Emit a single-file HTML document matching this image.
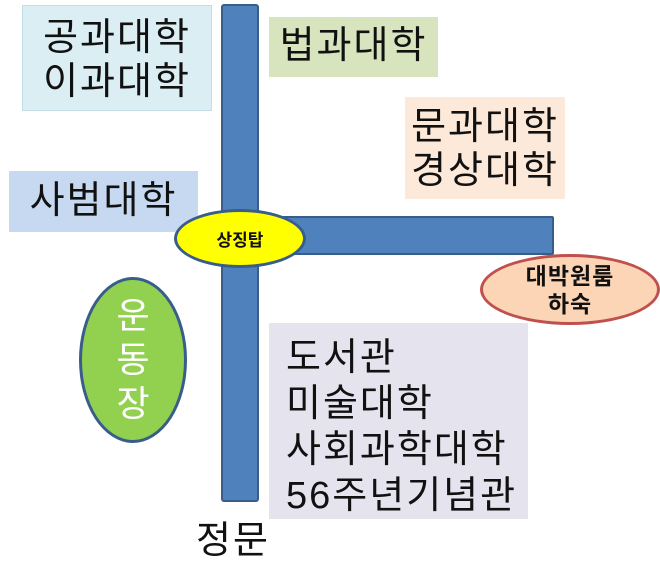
<!DOCTYPE html><html><head><meta charset="utf-8"><style>
body{margin:0;width:660px;height:583px;background:#fff;position:relative;overflow:hidden;font-family:"Liberation Sans","Noto Sans CJK KR",sans-serif;color:#111}
.a{position:absolute;box-sizing:border-box}
.t{font-size:38px;line-height:44px;letter-spacing:2px}
</style></head><body>
<div class="a t" style="left:22px;top:5px;width:190px;height:106px;background:#dbeef4;border:1px solid #c4dde6;padding-top:10px;text-align:center">공과대학<br>이과대학</div>
<div class="a t" style="left:269px;top:17px;width:169px;height:60px;background:#d7e4bd;padding-top:7px;text-align:center">법과대학</div>
<div class="a t" style="left:405px;top:97px;width:160px;height:102px;background:#fde9d9;padding-top:8px;text-align:center">문과대학<br>경상대학</div>
<div class="a t" style="left:9px;top:171px;width:189px;height:61px;background:#c6d9f1;padding-top:8px;text-align:center">사범대학</div>
<div class="a t" style="left:269px;top:323px;width:259px;height:196px;background:#e4e3ee;padding:12px 0 0 17px;line-height:46px">도서관<br>미술대학<br>사회과학대학<br>56주년기념관</div>
<div class="a" style="left:221px;top:4px;width:38px;height:498px;background:#4f81bd;border:2px solid #385d8a;border-radius:3px"></div>
<div class="a" style="left:256px;top:216px;width:298px;height:39px;background:#4f81bd;border:2px solid #385d8a;border-radius:2px"></div>
<div class="a" style="left:174px;top:209px;width:132px;height:59px;background:#ffff00;border:3px solid #385d8a;border-radius:50%;font-size:17px;font-weight:bold;display:flex;align-items:center;justify-content:center">상징탑</div>
<div class="a" style="left:480px;top:254px;width:180px;height:71px;background:#fbd5b5;border:3px solid #c0504d;border-radius:50%;font-size:23px;font-weight:bold;letter-spacing:1px;line-height:28px;display:flex;align-items:center;justify-content:center;text-align:center">대박원룸<br>하숙</div>
<div class="a" style="left:79px;top:277px;width:108px;height:166px;background:#92d050;border:3px solid #385d8a;border-radius:50%;color:#fff;font-size:36px;line-height:44px;display:flex;align-items:center;justify-content:center;text-align:center">운<br>동<br>장</div>
<div class="a t" style="left:196px;top:519px">정문</div>
</body></html>
